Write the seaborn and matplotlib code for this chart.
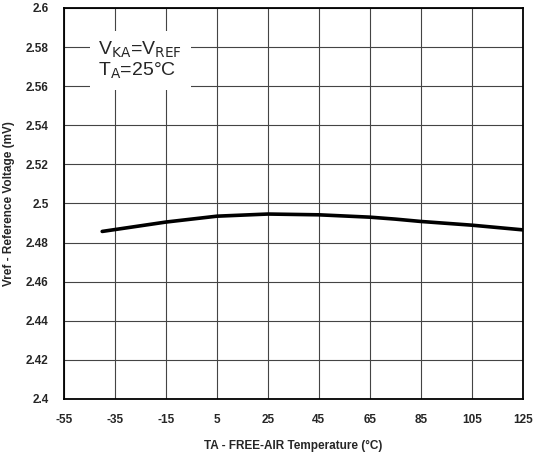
import matplotlib
matplotlib.use("Agg")
import numpy as np
import pandas as pd
import matplotlib.pyplot as plt
import seaborn as sns

# temperature (°C) vs reference voltage
temp_c = [-40, -15, 5, 25, 45, 65, 75, 85, 105, 125]
vref = [2.4857, 2.4905, 2.4935, 2.4946, 2.4942, 2.4930, 2.4920, 2.4908, 2.4889, 2.4865]

x_ticks = [-55, -35, -15, 5, 25, 45, 65, 85, 105, 125]
y_ticks = [2.4, 2.42, 2.44, 2.46, 2.48, 2.5, 2.52, 2.54, 2.56, 2.58, 2.6]
y_labels = ["2.4", "2.42", "2.44", "2.46", "2.48", "2.5", "2.52", "2.54", "2.56", "2.58", "2.6"]

sns.set_style("white")
plt.rcParams["font.family"] = ["Liberation Sans", "DejaVu Sans"]

df = pd.DataFrame({"temp": temp_c, "vref": vref})

fig = plt.figure(figsize=(5.33, 4.57), dpi=100)
fig.patch.set_facecolor("white")

ax = fig.add_axes([0.120, 0.127, 0.861, 0.8555])
sns.lineplot(data=df, x="temp", y="vref", ax=ax, color="black", linewidth=2.6, zorder=5)

ax.set_xlim(-55, 125)
ax.set_ylim(2.4, 2.6)
ax.set_xticks(x_ticks)
ax.set_xticklabels([str(t) for t in x_ticks], fontsize=8.5, fontweight="bold")
ax.set_yticks(y_ticks)
ax.set_yticklabels(y_labels, fontsize=8.5, fontweight="bold")
ax.tick_params(length=0)
ax.tick_params(axis="x", pad=11)
ax.tick_params(axis="y", pad=11)
ax.grid(True, color="#444444", linewidth=0.8)
for s in ax.spines.values():
    s.set_color("black")
    s.set_linewidth(1.3)
    s.set_visible(True)

ax.set_xlabel("TA - FREE-AIR Temperature (°C)", fontsize=8.5, fontweight="bold")
ax.set_ylabel("Vref - Reference Voltage (mV)", fontsize=8.5, fontweight="bold")
ax.xaxis.set_label_coords(0.5, -0.105)
ax.yaxis.set_label_coords(-0.107, 0.5)

# condition box, top left
ax.text(-41.5, 2.5730, "V$_{\\mathrm{KA}}$=V$_{\\mathrm{REF}}$\nT$_{\\mathrm{A}}$=25°C",
        fontsize=14, ha="left", va="center", zorder=6, linespacing=1.05,
        bbox=dict(facecolor="white", edgecolor="none", boxstyle="square,pad=0.45"))

plt.savefig("out.png", dpi=100, facecolor="white")
